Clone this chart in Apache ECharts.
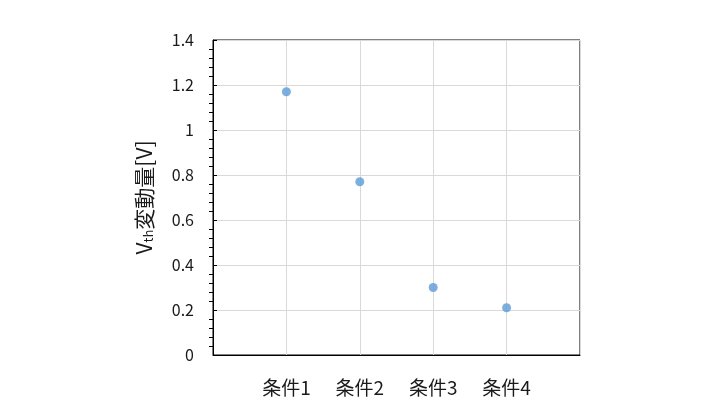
<!DOCTYPE html>
<html lang="ja">
<head>
<meta charset="UTF-8">
<title>Vth変動量</title>
<script src="https://cdn.jsdelivr.net/npm/echarts@6/dist/echarts.min.js"></script>
<style>
  html, body { margin: 0; padding: 0; background: #fff; }
  #chart { width: 720px; height: 408px; }
</style>
</head>
<body>
<div id="chart"></div>
<script>
// データ
const categories = ['条件1', '条件2', '条件3', '条件4'];
const shiftValues = [1.17, 0.77, 0.30, 0.21];
const yTicks = [0, 0.2, 0.4, 0.6, 0.8, 1, 1.2, 1.4];

const font = '"Noto Sans CJK JP", "Noto Sans", sans-serif';
const chart = echarts.init(document.getElementById('chart'));

const points = shiftValues.map((v, i) => [i + 1, v]);

chart.setOption({
  backgroundColor: '#fff',
  animation: false,
  grid: {
    left: 213, top: 40, width: 367, height: 315,
    show: true, borderColor: '#000', borderWidth: 1
  },
  xAxis: {
    type: 'value',
    min: 0, max: categories.length + 1, interval: 1,
    axisLine: { show: true, lineStyle: { color: '#000', width: 1 } },
    axisTick: { show: false },
    splitLine: { show: true, lineStyle: { color: '#d9d9d9' } },
    axisLabel: {
      margin: 23, fontSize: 19, color: '#1a1a1a', fontFamily: font,
      formatter: v => categories[v - 1] || ''
    }
  },
  yAxis: {
    type: 'value',
    min: yTicks[0], max: yTicks[yTicks.length - 1], interval: 0.2,
    name: '{v|V}{sub|th}{v|変動量[V]}',
    nameLocation: 'middle',
    nameGap: 58,
    nameTextStyle: {
      rich: {
        v: { fontSize: 21, color: '#1a1a1a', fontFamily: font },
        sub: { fontSize: 13, color: '#1a1a1a', fontFamily: font, verticalAlign: 'bottom', padding: [9, 0, 0, 0] }
      }
    },
    axisLine: { show: true, lineStyle: { color: '#000', width: 1 } },
    axisTick: { show: true, inside: true, length: 4, lineStyle: { color: '#000' } },
    // 目盛りは内側へ
    minorTick: { show: true, splitNumber: 5, length: -4, lineStyle: { color: '#000' } },
    splitLine: { show: true, lineStyle: { color: '#d9d9d9' } },
    axisLabel: {
      margin: 19, fontSize: 16, color: '#1a1a1a', fontFamily: font,
      formatter: v => String(Math.round(v * 10) / 10)
    }
  },
  series: [{
    type: 'scatter',
    data: points,
    symbol: 'circle',
    symbolSize: 9,
    itemStyle: { color: '#5b9bd5' }
  }]
});
</script>
</body>
</html>
